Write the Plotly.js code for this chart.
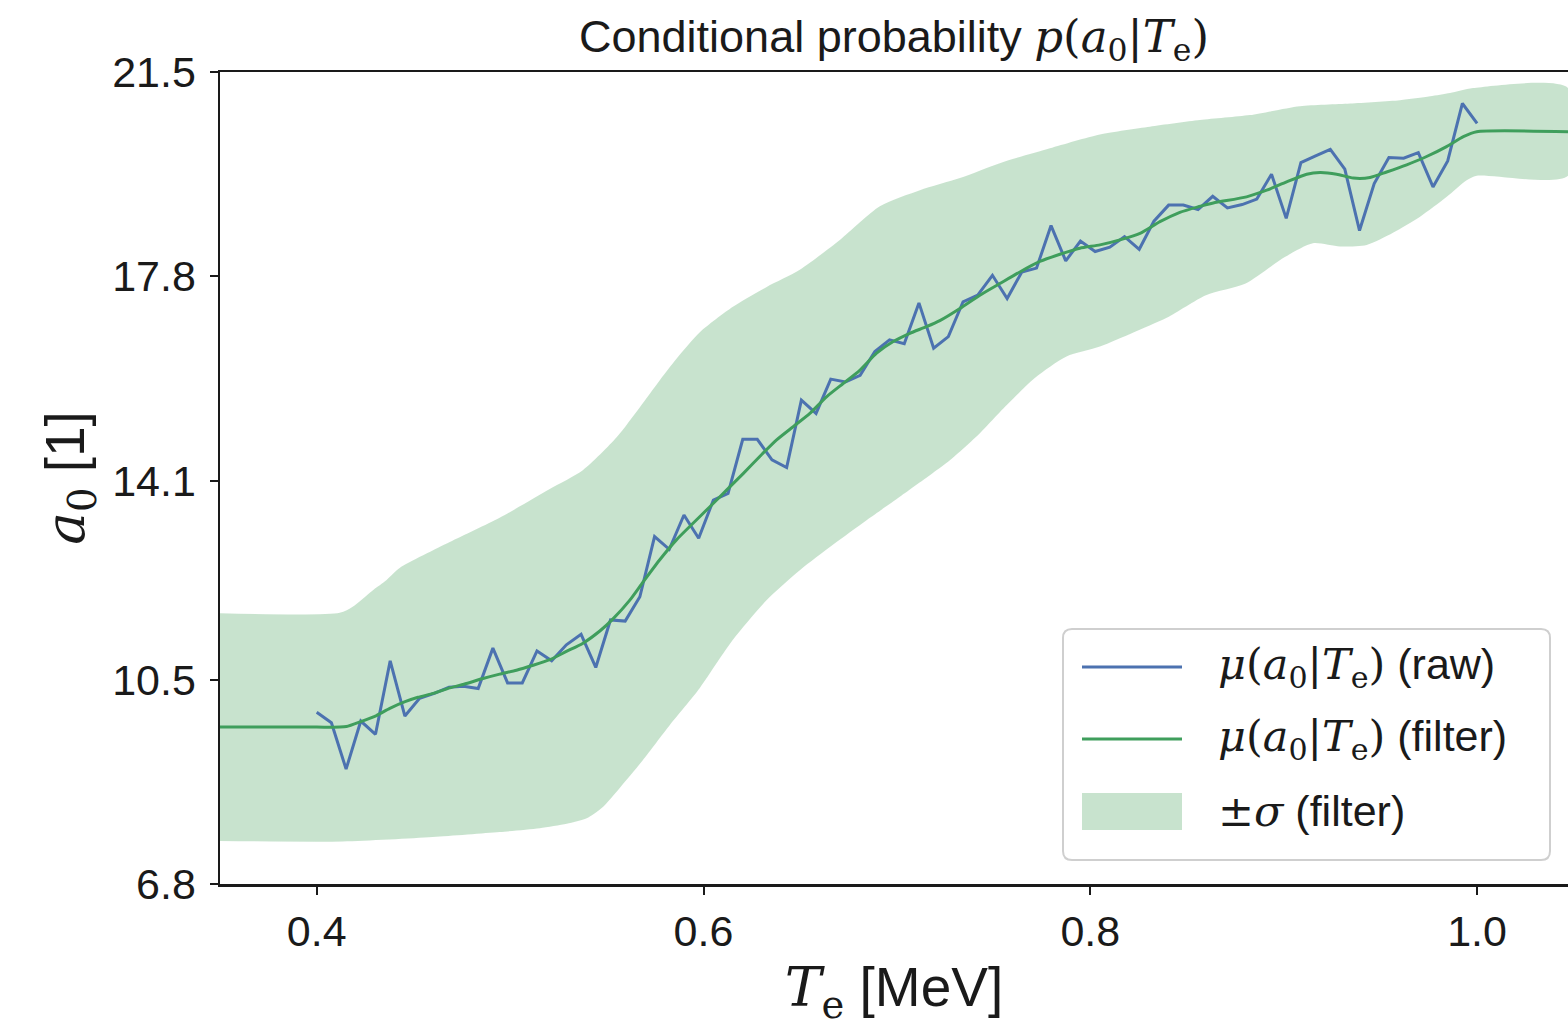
<!DOCTYPE html>
<html><head><meta charset="utf-8">
<script src="https://cdn.plot.ly/plotly-3.0.1.min.js"></script>
<style>html,body{margin:0;padding:0;background:#fff}#chart{width:1568px;height:1027px}</style>
</head><body><div id="chart"></div>
<script>
// ---- data ----
const rawX = [0.4000,0.4076,0.4152,0.4228,0.4304,0.4380,0.4456,0.4532,0.4608,0.4684,
 0.4759,0.4835,0.4911,0.4987,0.5063,0.5139,0.5215,0.5291,0.5367,0.5443,
 0.5519,0.5595,0.5671,0.5747,0.5823,0.5899,0.5975,0.6051,0.6127,0.6203,
 0.6278,0.6354,0.6430,0.6506,0.6582,0.6658,0.6734,0.6810,0.6886,0.6962,
 0.7038,0.7114,0.7190,0.7266,0.7342,0.7418,0.7494,0.7570,0.7646,0.7722,
 0.7797,0.7873,0.7949,0.8025,0.8101,0.8177,0.8253,0.8329,0.8405,0.8481,
 0.8557,0.8633,0.8709,0.8785,0.8861,0.8937,0.9013,0.9089,0.9165,0.9241,
 0.9316,0.9392,0.9468,0.9544,0.9620,0.9696,0.9772,0.9848,0.9924,1.0000];
const rawY = [9.91,9.72,8.88,9.75,9.51,10.84,9.84,10.16,10.25,10.36,
 10.38,10.34,11.07,10.44,10.44,11.02,10.84,11.13,11.32,10.72,
 11.58,11.56,12.00,13.09,12.86,13.48,13.06,13.75,13.87,14.85,
 14.85,14.48,14.34,15.56,15.32,15.94,15.89,16.01,16.44,16.65,
 16.58,17.32,16.50,16.71,17.34,17.46,17.82,17.40,17.88,17.95,
 18.72,18.08,18.44,18.25,18.33,18.52,18.29,18.80,19.09,19.09,
 19.01,19.25,19.04,19.10,19.20,19.65,18.85,19.86,19.98,20.10,
 19.74,18.63,19.48,19.95,19.94,20.04,19.42,19.89,20.93,20.57];

const filtX = [0.350,0.400,0.412,0.4154,0.4228,0.4309,0.4378,0.4457,0.4524,0.4602,
 0.4688,0.4774,0.4860,0.4946,0.5033,0.5119,0.5205,0.5291,0.5377,0.5464,
 0.5532,0.5619,0.5688,0.5774,0.5860,0.5946,0.6033,0.6119,0.6205,0.6291,
 0.6378,0.6464,0.6550,0.6636,0.6722,0.6808,0.6895,0.6981,0.7067,0.7153,
 0.7222,0.7326,0.7429,0.7532,0.7636,0.7739,0.7843,0.7946,0.8050,0.8153,
 0.8257,0.8360,0.8463,0.8558,0.8636,0.8808,0.8912,0.9015,0.9119,0.9188,
 0.9274,0.9360,0.9446,0.9532,0.9636,0.9739,0.9842,0.9929,0.9998,1.047];
const filtY = [9.64,9.64,9.64,9.65,9.74,9.85,9.98,10.10,10.18,10.25,
 10.35,10.43,10.52,10.60,10.67,10.76,10.86,11.01,11.16,11.38,
 11.60,11.94,12.27,12.67,13.03,13.33,13.63,13.93,14.23,14.54,
 14.84,15.08,15.32,15.62,15.86,16.10,16.41,16.62,16.77,16.89,
 17.00,17.22,17.46,17.67,17.88,18.07,18.20,18.31,18.37,18.46,
 18.58,18.79,18.96,19.06,19.13,19.24,19.36,19.51,19.65,19.68,
 19.65,19.58,19.59,19.69,19.82,19.97,20.15,20.33,20.42,20.42];

const upX = [0.350,0.4119,0.4186,0.4291,0.4360,0.4429,0.4688,0.4946,0.5205,0.5376,
 0.5552,0.5671,0.5774,0.5877,0.5981,0.6152,0.6327,0.6498,0.6705,0.6912,
 0.7119,0.7326,0.7532,0.7791,0.8050,0.8308,0.8567,0.8825,0.9084,0.9343,
 0.9601,0.9757,0.9860,0.9979,1.047];
const upY = [11.70,11.71,11.82,12.12,12.30,12.52,12.99,13.43,13.95,14.29,
 14.89,15.43,15.92,16.38,16.79,17.25,17.61,17.92,18.46,19.07,
 19.36,19.58,19.85,20.12,20.37,20.51,20.63,20.72,20.88,20.93,
 20.99,21.06,21.12,21.21,21.21];
const loX = [0.350,0.4134,0.4600,0.4946,0.5153,0.5293,0.5396,0.5475,0.5567,0.5686,
 0.5826,0.5981,0.6152,0.6327,0.6498,0.6669,0.6845,0.7015,0.7186,0.7274,
 0.7429,0.7532,0.7713,0.7877,0.8050,0.8220,0.8395,0.8598,0.8803,0.9006,
 0.9151,0.9291,0.9429,0.9565,0.9705,0.9843,0.9946,0.9998,1.047];
const loY = [7.58,7.57,7.65,7.74,7.81,7.89,7.99,8.18,8.54,9.04,
 9.68,10.35,11.22,11.94,12.48,12.94,13.39,13.81,14.24,14.47,
 14.96,15.34,15.96,16.35,16.53,16.78,17.05,17.46,17.67,18.15,
 18.40,18.34,18.37,18.59,18.88,19.24,19.54,19.62,19.62];

const xTickVals = [0.4,0.6,0.8,1.0];
const xTickText = ['0.4','0.6','0.8','1.0'];
const yTickVals = [6.8,10.5,14.1,17.8,21.5];
const yTickText = ['6.8','10.5','14.1','17.8','21.5'];

// ---- styling ----
const SANS = 'Liberation Sans, Arial, sans-serif';
const SERIF = 'DejaVu Serif, Liberation Serif, serif';
const m = s => "<span style='font-family:" + SERIF + "'>" + s + "</span>";
const muTxt = m('<i>μ</i>(<i>a</i><sub>0</sub>|<i>T</i><sub>e</sub>)');
const BLUE = '#4c72b0', GREEN = '#3f9e5c', BAND = 'rgba(85,168,104,0.32)', INK = '#1a1a1a';

const bandX = upX.concat(loX.slice().reverse());
const bandY = upY.concat(loY.slice().reverse());

const traces = [
  {x: bandX, y: bandY, type: 'scatter', mode: 'lines', fill: 'toself',
   fillcolor: BAND, line: {width: 0, color: 'rgba(0,0,0,0)', shape: 'spline', smoothing: 0.7},
   name: '±σ (filter)', showlegend: false, hoverinfo: 'skip'},
  {x: rawX, y: rawY, type: 'scatter', mode: 'lines',
   line: {color: BLUE, width: 3}, name: 'μ(a0|Te) (raw)', showlegend: false},
  {x: filtX, y: filtY, type: 'scatter', mode: 'lines',
   line: {color: GREEN, width: 3, shape: 'spline', smoothing: 0.6}, name: 'μ(a0|Te) (filter)', showlegend: false}
];

// legend drawn by hand (pixel positions -> paper coordinates)
const L = 220, R = 1568, T = 72, B = 884;
const px = p => (p - L) / (R - L);
const py = p => (B - p) / (B - T);
function roundRect(x0, y0, x1, y1, r) {
  const rx = r / (R - L), ry = r / (B - T);
  const a = px(x0), b = px(x1), t = py(y0), u = py(y1);
  return `M${a+rx},${t} L${b-rx},${t} Q${b},${t} ${b},${t-ry} L${b},${u+ry} Q${b},${u} ${b-rx},${u} ` +
         `L${a+rx},${u} Q${a},${u} ${a},${u+ry} L${a},${t-ry} Q${a},${t} ${a+rx},${t} Z`;
}
const legendShapes = [
  {type: 'path', xref: 'paper', yref: 'paper', path: roundRect(1063, 629, 1550, 860, 9),
   fillcolor: 'rgba(255,255,255,0.85)', line: {color: '#cfcfcf', width: 2}},
  {type: 'line', xref: 'paper', yref: 'paper', x0: px(1082), x1: px(1182), y0: py(667), y1: py(667),
   line: {color: BLUE, width: 3}},
  {type: 'line', xref: 'paper', yref: 'paper', x0: px(1082), x1: px(1182), y0: py(739), y1: py(739),
   line: {color: GREEN, width: 3}},
  {type: 'rect', xref: 'paper', yref: 'paper', x0: px(1082), x1: px(1182), y0: py(793), y1: py(830),
   fillcolor: BAND, line: {width: 0}}
];
const legendTexts = [
  {t: muTxt + ' (raw)', y: 667},
  {t: muTxt + ' (filter)', y: 739},
  {t: m('±<i>σ</i>') + ' (filter)', y: 811}
].map(d => ({text: d.t, xref: 'paper', yref: 'paper', x: px(1216), y: py(d.y), xanchor: 'left', yanchor: 'middle',
             showarrow: false, font: {size: 43, family: SANS, color: INK}}));

const layout = {
  width: 1568, height: 1027,
  margin: {l: L, r: 0, t: T, b: 1027 - B},
  paper_bgcolor: 'white', plot_bgcolor: 'white',
  font: {family: SANS, color: INK, size: 43},
  title: {text: 'Conditional probability ' + m('<i>p</i>(<i>a</i><sub>0</sub>|<i>T</i><sub>e</sub>)'),
          x: 0.5, xref: 'paper', xanchor: 'center', y: 1 - 36/1027, yref: 'container', yanchor: 'middle',
          font: {size: 45, family: SANS, color: INK}},
  xaxis: {range: [0.35, 1.047], tickvals: xTickVals, ticktext: xTickText,
          showgrid: false, zeroline: false, showline: true, mirror: true, linecolor: INK, linewidth: 2.5,
          ticks: 'outside', ticklen: 8, tickwidth: 2, tickcolor: INK, tickfont: {size: 43},
          ticklabelstandoff: 0,
          title: {text: m('<i>T</i><sub>e</sub>') + ' [MeV]', font: {size: 55}, standoff: 16}},
  yaxis: {range: [6.8, 21.5], tickvals: yTickVals, ticktext: yTickText,
          showgrid: false, zeroline: false, showline: true, mirror: false, linecolor: INK, linewidth: 2.5,
          ticks: 'outside', ticklen: 8, tickwidth: 2, tickcolor: INK, tickfont: {size: 43},
          ticklabelstandoff: 5,
          title: {text: m('<i>a</i><sub>0</sub>') + ' [1]', font: {size: 55}, standoff: 10}},
  showlegend: false,
  shapes: legendShapes,
  annotations: legendTexts
};

Plotly.newPlot('chart', traces, layout, {displayModeBar: false, staticPlot: true});
</script></body></html>
